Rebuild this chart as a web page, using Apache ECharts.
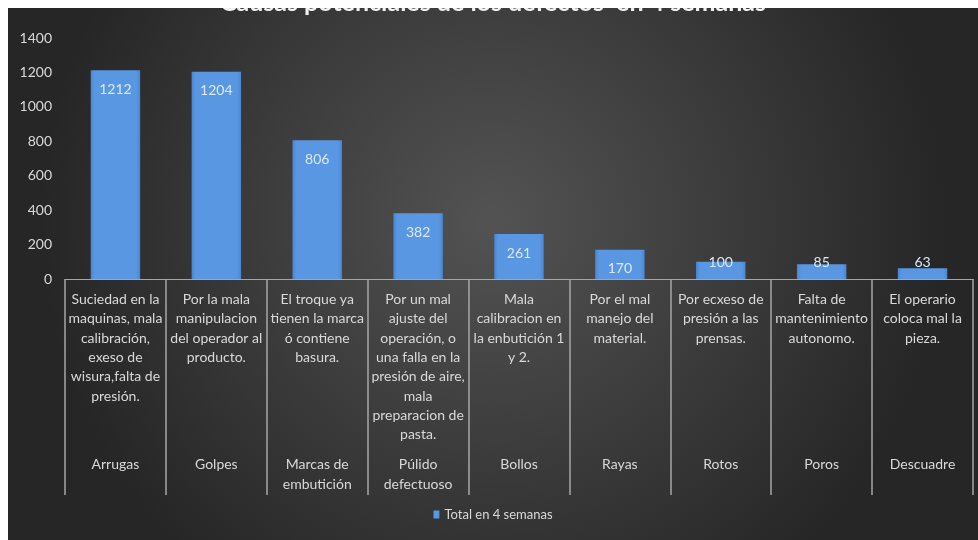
<!DOCTYPE html>
<html>
<head>
<meta charset="utf-8">
<script src="https://cdn.jsdelivr.net/npm/echarts@6/dist/echarts.min.js"></script>
<style>
  html, body { margin: 0; padding: 0; background: #ffffff; }
  #chart { position: absolute; left: 8px; top: 8px; width: 970px; height: 532px; }
</style>
</head>
<body>
<div id="chart"></div>
<script>
// defect types (bottom level of the category axis)
const defectos = ['Arrugas', 'Golpes', 'Marcas de\nembutición', 'Púlido\ndefectuoso', 'Bollos', 'Rayas', 'Rotos', 'Poros', 'Descuadre'];

// causes (upper level of the category axis)
const causas = [
  'Suciedad en la\nmaquinas, mala\ncalibración,\nexeso de\nwisura,falta de\npresión.',
  'Por la mala\nmanipulacion\ndel operador al\nproducto.',
  'El troque ya\ntienen la marca\nó contiene\nbasura.',
  'Por un mal\najuste del\noperación, o\nuna falla en la\npresión de aire,\nmala\npreparacion de\npasta.',
  'Mala\ncalibracion en\nla enbutición 1\ny 2.',
  'Por el mal\nmanejo del\nmaterial.',
  'Por ecxeso de\npresión a las\nprensas.',
  'Falta de\nmantenimiento\nautonomo.',
  'El operario\ncoloca mal la\npieza.'
];

const totales = [1212, 1204, 806, 382, 261, 170, 100, 85, 63];

const yMax = 1400;
const yStep = 200;

const chart = echarts.init(document.getElementById('chart'));

const txt = '#d9d9d9';
const font = 'Lato, "Open Sans", sans-serif';

// short bars get their label near the base instead of inside the top
const barData = totales.map(v => v < 150
  ? { value: v, label: { position: 'insideBottom', distance: 10 } }
  : v);

chart.setOption({
  backgroundColor: {
    type: 'radial', x: 0.5, y: 0.4, r: 0.85,
    colorStops: [
      { offset: 0, color: '#535353' },
      { offset: 1, color: '#262626' }
    ]
  },
  textStyle: { fontFamily: font },
  title: {
    text: 'Causas potenciales de los defectos  en 4 semanas',
    left: 'center',
    top: -23,
    textStyle: { color: '#f2f2f2', fontSize: 25, fontWeight: 'bold', fontFamily: font }
  },
  legend: {
    bottom: 14,
    left: 'center',
    icon: 'rect',
    itemWidth: 6,
    itemHeight: 8,
    itemGap: 5,
    textStyle: { color: txt, fontSize: 13, fontFamily: font },
    data: ['Total en 4 semanas']
  },
  grid: { left: 57, right: 5, top: 30, bottom: 261, containLabel: false },
  xAxis: [
    {
      type: 'category',
      data: causas,
      position: 'bottom',
      axisLine: { lineStyle: { color: '#a6a6a6', width: 1 } },
      axisTick: { show: true, length: 216, lineStyle: { color: '#a6a6a6', width: 1.5 } },
      axisLabel: {
        interval: 0,
        color: txt,
        fontSize: 14,
        lineHeight: 19.3,
        margin: 11,
        verticalAlign: 'top',
        fontFamily: font
      }
    },
    {
      type: 'category',
      data: defectos,
      position: 'bottom',
      axisLine: { show: false },
      axisTick: { show: false },
      axisLabel: {
        interval: 0,
        color: txt,
        fontSize: 14,
        lineHeight: 19.5,
        margin: 176,
        verticalAlign: 'top',
        fontFamily: font
      }
    }
  ],
  yAxis: {
    type: 'value',
    min: 0,
    max: yMax,
    interval: yStep,
    axisLine: { show: false },
    axisTick: { show: false },
    splitLine: { show: false },
    axisLabel: { color: txt, fontSize: 14, margin: 13, fontFamily: font, formatter: v => String(v) }
  },
  series: [
    {
      name: 'Total en 4 semanas',
      type: 'bar',
      xAxisIndex: 0,
      barWidth: '49%',
      data: barData,
      itemStyle: {
        color: {
          type: 'linear', x: 0, y: 0, x2: 1, y2: 0,
          colorStops: [
            { offset: 0, color: '#4b86d0' },
            { offset: 0.08, color: '#5a97e2' },
            { offset: 0.92, color: '#5a97e2' },
            { offset: 1, color: '#4b86d0' }
          ]
        }
      },
      label: {
        show: true,
        position: 'insideTop',
        distance: 12,
        color: '#dce8f7',
        fontSize: 14,
        fontFamily: font
      }
    }
  ]
});
</script>
</body>
</html>
